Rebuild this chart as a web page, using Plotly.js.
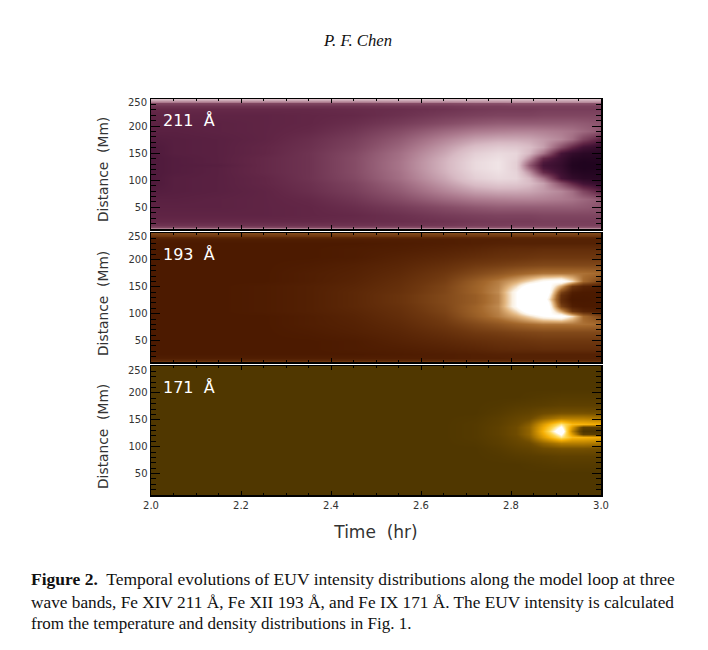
<!DOCTYPE html>
<html><head><meta charset="utf-8">
<script src="https://cdn.plot.ly/plotly-3.0.1.min.js"></script>
<style>html,body{margin:0;padding:0;background:#fff}</style></head>
<body><div id="g" style="width:708px;height:650px"></div>
<script>
const timeHr=[2.0,2.05,2.15,2.25,2.35,2.45,2.55,2.65,2.72,2.77,2.81,2.84,2.87,2.91,2.935,2.96,3.0];
const distance=[6,11,14,18,24,35,50,65,80,95,105,115,122,128,134,141,151,161,176,191,206,221,232,238,242,245,250];
const distance171=[8,13,16,20,26,37,52,67,82,97,107,117,124,130,136,143,153,163,178,193,208,223,234,240,244,247,252];
// lower half of the loop, edge to apex; the upper half reads as its mirror image
const i211=[
[.82,.82,.82,.82,.82,.82,.82,.82,.82,.82,.82,.82,.82,.82,.82,.82,.82],
[.60,.60,.60,.60,.60,.60,.62,.62,.64,.64,.65,.65,.65,.65,.65,.65,.65],
[.42,.42,.42,.42,.42,.42,.44,.44,.46,.46,.47,.47,.47,.47,.47,.47,.47],
[.35,.35,.35,.35,.35,.35,.36,.37,.39,.39,.40,.40,.40,.40,.40,.40,.40],
[.31,.31,.31,.31,.31,.32,.33,.35,.37,.38,.38,.38,.39,.39,.39,.39,.39],
[.29,.29,.29,.29,.30,.31,.34,.38,.40,.41,.41,.41,.42,.42,.42,.42,.42],
[.28,.28,.28,.29,.30,.33,.38,.44,.48,.50,.50,.50,.50,.50,.50,.49,.47],
[.27,.27,.28,.29,.31,.36,.44,.54,.60,.62,.63,.63,.62,.60,.58,.54,.48],
[.25,.26,.27,.29,.33,.39,.49,.63,.72,.75,.75,.74,.70,.64,.56,.42,.28],
[.23,.26,.27,.30,.34,.41,.53,.70,.83,.88,.87,.82,.72,.45,.30,.18,.11],
[.23,.26,.27,.30,.35,.43,.56,.74,.90,.95,.93,.80,.58,.20,.11,.07,.06],
[.23,.25,.27,.31,.35,.44,.57,.77,.93,.98,.92,.68,.32,.15,.06,.04,.04],
[.23,.25,.27,.31,.35,.44,.58,.78,.95,1.0,.90,.56,.23,.13,.04,.02,.03],
[.23,.25,.26,.31,.35,.44,.58,.78,.95,1.0,.90,.50,.20,.12,.03,.02,.02]];
const i193=[
[.42,.42,.42,.42,.42,.42,.42,.42,.42,.42,.42,.42,.42,.42,.42,.42,.42],
[.34,.34,.34,.34,.34,.34,.34,.34,.34,.34,.34,.34,.34,.34,.34,.34,.34],
[.27,.27,.27,.27,.27,.27,.27,.27,.27,.27,.27,.27,.27,.27,.27,.27,.27],
[.22,.22,.22,.22,.22,.22,.22,.22,.23,.23,.24,.24,.24,.24,.24,.24,.24],
[.20,.20,.20,.20,.20,.20,.21,.22,.23,.24,.24,.24,.24,.24,.24,.24,.24],
[.20,.20,.20,.20,.20,.21,.22,.24,.26,.28,.29,.29,.30,.30,.30,.30,.30],
[.20,.20,.20,.20,.20,.21,.24,.27,.30,.32,.33,.34,.35,.35,.35,.35,.35],
[.20,.20,.20,.20,.21,.23,.26,.31,.36,.38,.40,.41,.42,.42,.42,.42,.42],
[.20,.20,.20,.20,.22,.24,.28,.35,.42,.47,.52,.55,.58,.58,.58,.57,.55],
[.20,.20,.20,.20,.22,.25,.30,.38,.50,.60,.72,.84,.98,1.05,.85,.55,.40],
[.20,.20,.20,.21,.23,.26,.31,.40,.52,.62,.85,1.1,1.2,.70,.35,.25,.22],
[.20,.20,.20,.21,.23,.27,.32,.41,.52,.64,.98,1.3,1.3,.40,.22,.20,.20],
[.20,.20,.20,.21,.23,.27,.33,.42,.50,.62,.98,1.3,1.25,.32,.20,.19,.20],
[.20,.20,.20,.21,.23,.27,.33,.42,.50,.62,.98,1.3,1.15,.30,.18,.18,.20]];
const i171=[
[.15,.15,.15,.15,.15,.15,.15,.15,.15,.15,.15,.15,.15,.15,.15,.15,.15],
[.15,.15,.15,.15,.15,.15,.15,.15,.15,.15,.15,.15,.15,.15,.15,.15,.15],
[.15,.15,.15,.15,.15,.15,.15,.15,.15,.15,.15,.15,.15,.15,.15,.15,.15],
[.15,.15,.15,.15,.15,.15,.15,.15,.15,.15,.15,.15,.15,.15,.15,.15,.15],
[.15,.15,.15,.15,.15,.15,.15,.15,.15,.15,.15,.15,.15,.15,.15,.15,.15],
[.15,.15,.15,.15,.15,.15,.15,.15,.15,.15,.15,.15,.15,.15,.15,.15,.15],
[.15,.15,.15,.15,.15,.15,.15,.15,.15,.15,.15,.15,.15,.15,.15,.15,.15],
[.15,.15,.15,.15,.15,.15,.15,.15,.15,.15,.15,.16,.17,.18,.18,.18,.18],
[.15,.15,.15,.15,.15,.15,.15,.15,.15,.16,.18,.19,.20,.22,.22,.22,.22],
[.15,.15,.15,.15,.15,.15,.15,.15,.15,.18,.22,.24,.30,.33,.33,.33,.32],
[.15,.15,.15,.15,.15,.15,.15,.15,.16,.20,.25,.29,.40,.50,.50,.50,.47],
[.15,.15,.15,.15,.15,.15,.15,.15,.17,.21,.28,.37,.62,.90,.74,.72,.68],
[.15,.15,.15,.15,.15,.15,.15,.15,.17,.22,.30,.40,.68,1.02,.62,.22,.20],
[.15,.15,.15,.15,.15,.15,.15,.15,.17,.22,.30,.40,.72,1.15,.52,.13,.13]];
const scale211=[[0,'rgb(28,2,28)'],[.2,'rgb(70,20,55)'],[.3,'rgb(98,38,70)'],[.45,'rgb(135,78,104)'],[.6,'rgb(172,122,142)'],[.8,'rgb(215,185,195)'],[1,'rgb(240,228,230)']];
const scale193=[[0,'rgb(50,15,0)'],[.2,'rgb(76,26,0)'],[.35,'rgb(110,55,15)'],[.55,'rgb(165,105,45)'],[.75,'rgb(225,180,125)'],[.9,'rgb(250,240,225)'],[1,'rgb(255,255,255)']];
const scale171=[[0,'rgb(60,40,0)'],[.15,'rgb(80,55,0)'],[.3,'rgb(110,75,0)'],[.5,'rgb(180,125,0)'],[.7,'rgb(245,175,5)'],[.85,'rgb(255,215,80)'],[1,'rgb(255,255,255)']];
const yTicks=[50,100,150,200,250];
const yTickLabels=['50','100','150','200',''];
const xTicks=[2.0,2.2,2.4,2.6,2.8,3.0];
const bandLabels=['211\u00a0\u00a0Å','193\u00a0\u00a0Å','171\u00a0\u00a0Å'];
const captionLines=['<b>Figure 2.</b>  Temporal evolutions of EUV intensity distributions along the model loop at three',
 'wave bands, Fe XIV 211 Å, Fe XII 193 Å, and Fe IX 171 Å. The EUV intensity is calculated',
 'from the temperature and density distributions in Fig. 1.'];
const captionSizes=[17.5,17.3,17];

const W=708,H=650,L=151,R=601;
const panels=[[99,229],[233,362],[366,495]];
const full=r=>r.concat(r.slice(0,-1).reverse());
const hm=(z,y,cs,n)=>({type:'heatmap',x:timeHr,y:y,z:full(z),colorscale:cs,zmin:0,zmax:1,zsmooth:'best',showscale:false,hoverinfo:'skip',xaxis:n==1?'x':'x'+n,yaxis:n==1?'y':'y'+n});
const data=[hm(i211,distance,scale211,1),hm(i193,distance,scale193,2),hm(i171,distance171,scale171,3)];
const tf={family:'DejaVu Sans',size:10,color:'#333'};
const layout={width:W,height:H,margin:{l:0,r:0,t:0,b:0},paper_bgcolor:'#fff',plot_bgcolor:'#fff',showlegend:false,annotations:[]};
panels.forEach((p,i)=>{
 const n=i+1,sx=n==1?'':n,last=i==2;
 layout['xaxis'+sx]={domain:[L/W,R/W],range:[2,3],anchor:'y'+sx,tickmode:'array',tickvals:xTicks,ticktext:xTicks.map(v=>v.toFixed(1)),showticklabels:last,tickfont:tf,
  ticks:'inside',ticklen:4,tickwidth:1,tickcolor:'#000',minor:{dtick:0.05,ticks:'inside',ticklen:2,tickwidth:1,tickcolor:'#000',showgrid:false},
  showgrid:false,zeroline:false,showline:true,linecolor:'#000',linewidth:1.5,mirror:'allticks',
  ...(last?{title:{text:'Time\u00a0\u00a0(hr)',font:{family:'DejaVu Sans',size:17,color:'#333'},standoff:16}}:{})};
 layout['yaxis'+sx]={domain:[1-p[1]/H,1-p[0]/H],range:[10,250],anchor:'x'+sx,tickmode:'array',tickvals:yTicks,ticktext:yTickLabels,tickfont:tf,
  ticks:'inside',ticklen:9,tickwidth:1,tickcolor:'#000',minor:{dtick:10,ticks:'inside',ticklen:5,tickwidth:1,tickcolor:'#000',showgrid:false},
  showgrid:false,zeroline:false,showline:true,linecolor:'#000',linewidth:1.5,mirror:'allticks'};
 layout.annotations.push({xref:'paper',yref:'paper',x:160.5/W,y:1-(p[0]+21)/H,xanchor:'left',yanchor:'middle',text:bandLabels[i],showarrow:false,font:{family:'DejaVu Sans',size:16,color:'#fff'}});
 layout.annotations.push({xref:'paper',yref:'paper',x:147.5/W,y:1-(p[0]+4)/H,xanchor:'right',yanchor:'middle',text:'250',showarrow:false,font:tf,borderpad:0});
 layout.annotations.push({xref:'paper',yref:'paper',x:103/W,y:1-(p[0]+71)/H,xanchor:'center',yanchor:'middle',textangle:-90,text:'Distance\u00a0\u00a0(Mm)',showarrow:false,font:{family:'DejaVu Sans',size:13.8,color:'#333'}});
});
layout.annotations.push({xref:'paper',yref:'paper',x:357/W,y:1-40/H,xanchor:'center',yanchor:'middle',text:'<i>P. F. Chen</i>',showarrow:false,font:{family:'Liberation Serif',size:16.7,color:'#111'}});
[579,602,623].forEach((y,i)=>layout.annotations.push({xref:'paper',yref:'paper',x:28.5/W,y:1-y/H,xanchor:'left',yanchor:'middle',align:'left',text:captionLines[i],showarrow:false,font:{family:'Liberation Serif',size:captionSizes[i],color:'#111'}}));
Plotly.newPlot('g',data,layout,{staticPlot:true,displayModeBar:false});
</script></body></html>
